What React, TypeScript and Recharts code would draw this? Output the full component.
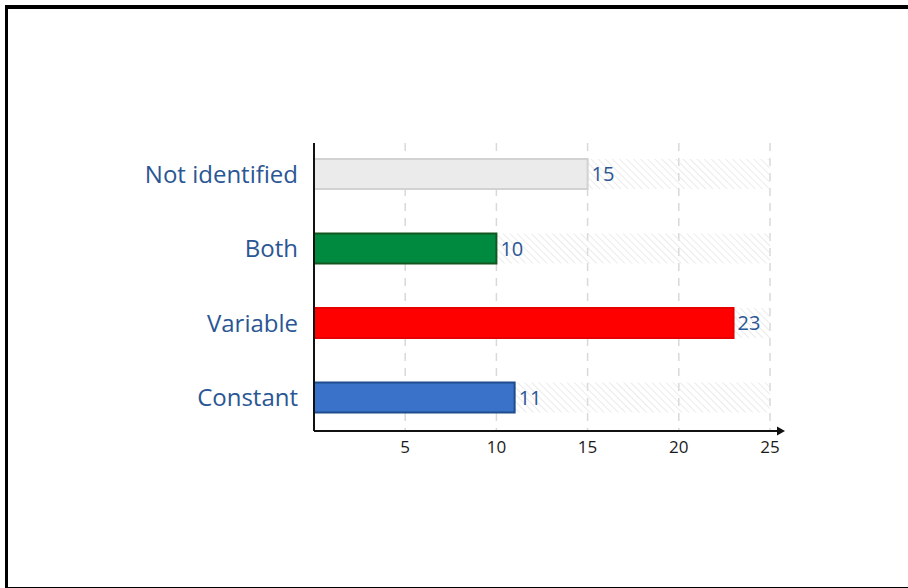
import { BarChart, Bar, XAxis, YAxis, CartesianGrid, Cell, LabelList } from 'recharts'

const categories = ['Not identified', 'Both', 'Variable', 'Constant']
const counts = [15, 10, 23, 11]
const xTicks = [5, 10, 15, 20, 25]

const barFills = ['#ebebeb', '#008a40', '#ff0000', '#3a72c9']
const barStrokes = ['#d2d2d2', '#14561f', '#e60000', '#1f4c8c']

const data = categories.map((name, i) => ({ name, count: counts[i] }))

const FONT = '"Open Sans", "Noto Sans", sans-serif'
const LABEL_BLUE = '#2a5694'

export default function App() {
  return (
    <div style={{ position: 'fixed', left: 0, top: 0, width: 908, height: 588, background: '#fff' }}>
      {/* frame */}
      <div
        style={{
          position: 'absolute',
          left: 5,
          top: 5,
          width: 900,
          height: 578,
          borderTop: '4px solid #000',
          borderLeft: '3px solid #000',
          borderBottom: '2px solid #000',
        }}
      />
      <div style={{ position: 'absolute', left: 0, top: 0 }}>
        <BarChart
          width={908}
          height={588}
          data={data}
          layout="vertical"
          margin={{ top: 143, right: 138, bottom: 127, left: 144 }}
        >
          <defs>
            <pattern id="hatch" patternUnits="userSpaceOnUse" width="5" height="5" patternTransform="rotate(-45)">
              <line x1="0" y1="0" x2="0" y2="5" stroke="#e6e6e6" strokeWidth="1.6" />
            </pattern>
            <marker id="arrow" markerUnits="userSpaceOnUse" markerWidth="20" markerHeight="12" refX="0" refY="6" orient="auto">
              <path d="M0,6 L9,6" stroke="#111" strokeWidth="2" />
              <path d="M7,1.5 L15,6 L7,10.5 Z" fill="#111" />
            </marker>
          </defs>
          <CartesianGrid horizontal={false} stroke="#d9d9d9" strokeDasharray="8 7" strokeWidth={1.5} />
          <XAxis
            type="number"
            domain={[0, 25]}
            ticks={xTicks}
            height={30}
            tickLine={false}
            tickSize={0}
            tickMargin={10}
            axisLine={{ stroke: '#111', strokeWidth: 2, markerEnd: 'url(#arrow)' }}
            tick={{ fill: '#1a1a1a', fontSize: 17, fontFamily: FONT }}
          />
          <YAxis
            type="category"
            dataKey="name"
            width={170}
            padding={{ top: -6, bottom: -4 }}
            tickLine={false}
            tickSize={0}
            tickMargin={16}
            axisLine={{ stroke: '#111', strokeWidth: 2 }}
            tick={{ fill: LABEL_BLUE, fontSize: 24, fontFamily: FONT }}
          />
          <Bar
            dataKey="count"
            barSize={30}
            strokeWidth={2}
            background={{ fill: 'url(#hatch)', stroke: 'none', strokeWidth: 0 }}
            isAnimationActive={false}
          >
            {data.map((d, i) => (
              <Cell key={d.name} fill={barFills[i]} stroke={barStrokes[i]} />
            ))}
            <LabelList
              dataKey="count"
              position="right"
              offset={4}
              fill={LABEL_BLUE}
              fontSize={20}
              fontFamily={FONT}
            />
          </Bar>
        </BarChart>
      </div>
    </div>
  )
}
